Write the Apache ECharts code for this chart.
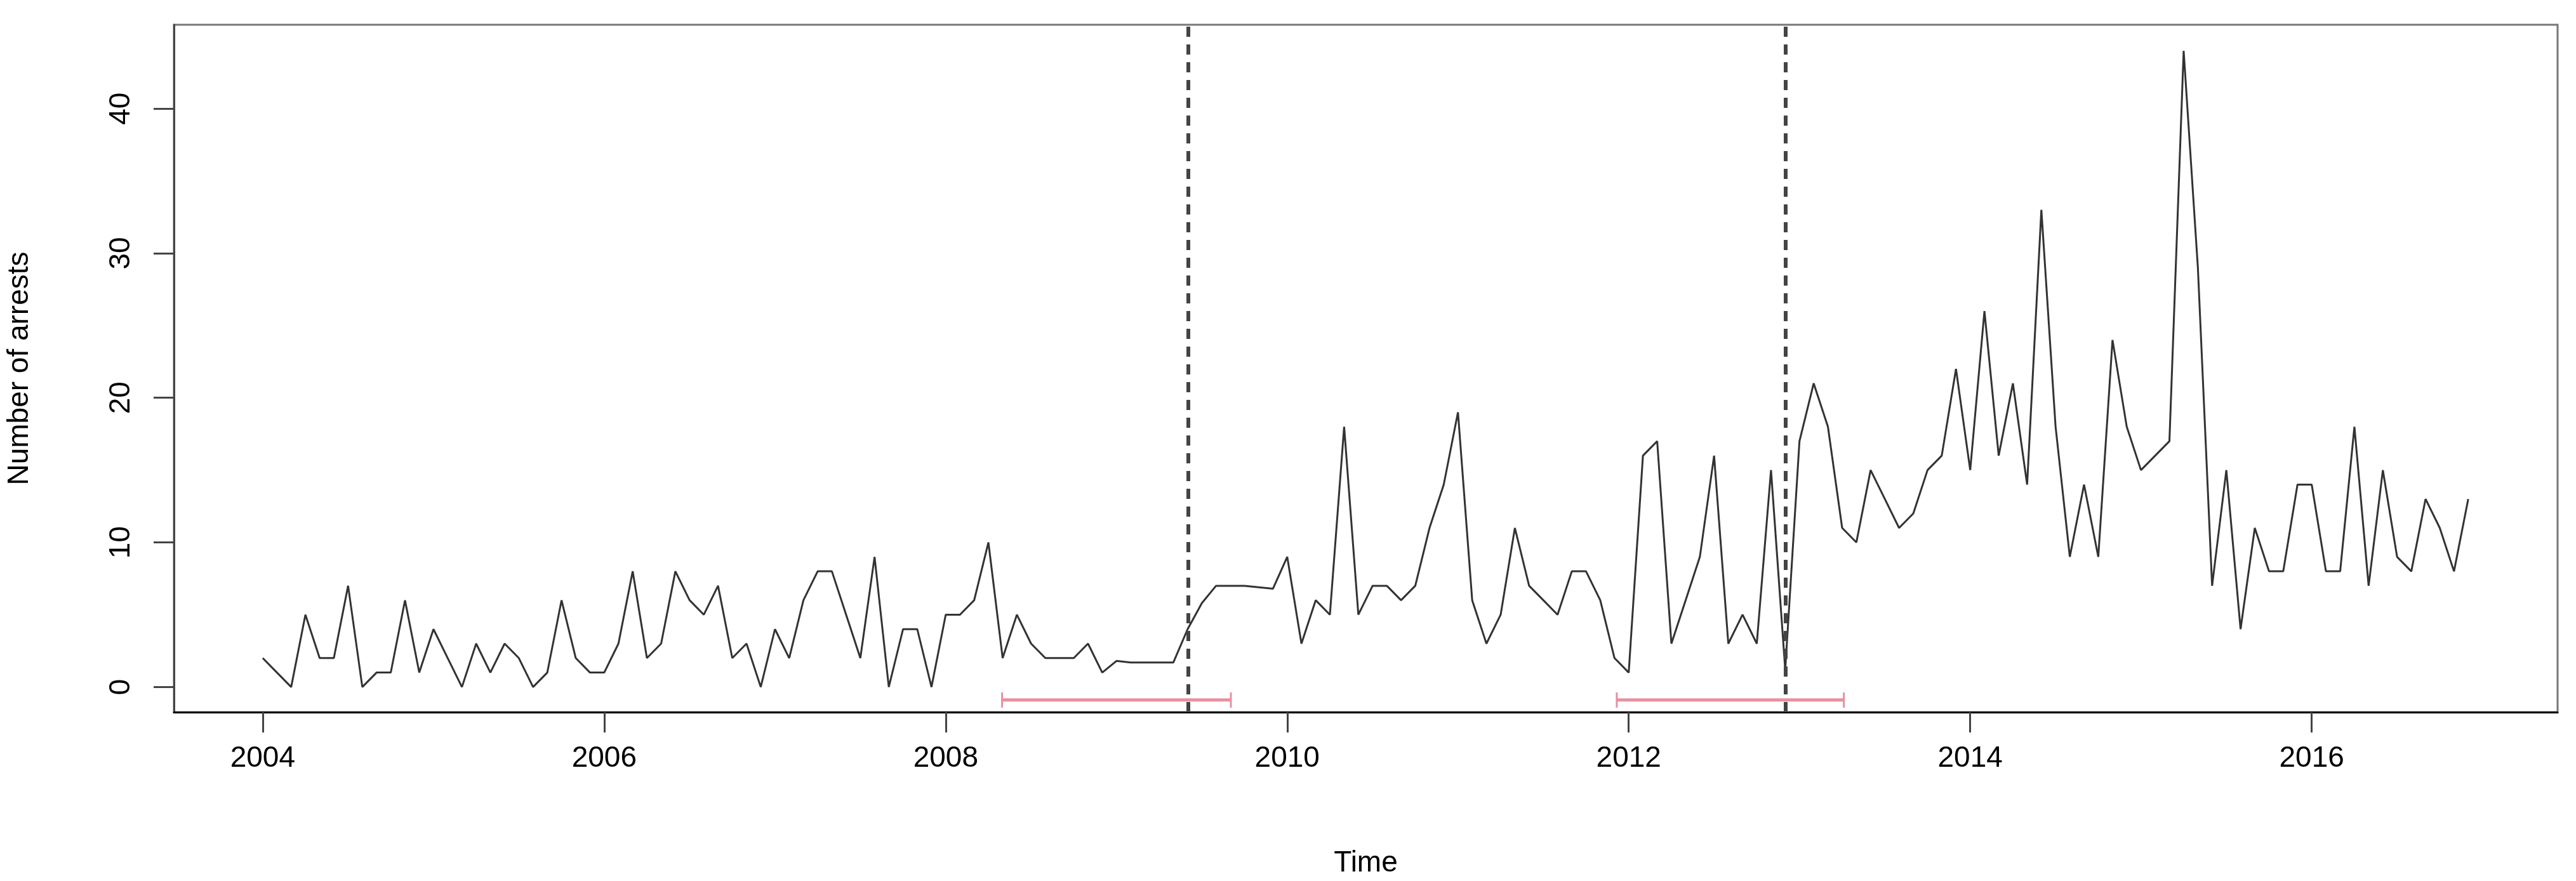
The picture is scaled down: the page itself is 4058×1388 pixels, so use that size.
<!DOCTYPE html>
<html>
<head>
<meta charset="utf-8">
<script src="https://cdn.jsdelivr.net/npm/echarts@6/dist/echarts.min.js"></script>
<style>html,body{margin:0;padding:0;background:#fff}#main{width:4058px;height:1388px}</style>
</head>
<body>
<div id="main"></div>
<script>
// monthly arrests, Jan 2004 .. Dec 2016
var startYear = 2004;
var arrests = [
  2,1,0,5,2,2,7,0,1,1,6,1,
  4,2,0,3,1,3,2,0,1,6,2,1,
  1,3,8,2,3,8,6,5,7,2,3,0,
  4,2,6,8,8,5,2,9,0,4,4,0,
  5,5,6,10,2,5,3,2,2,2,3,1,
  1.8,1.7,1.7,1.7,1.7,4,5.8,7,7,7,6.9,6.8,
  9,3,6,5,18,5,7,7,6,7,11,14,
  19,6,3,5,11,7,6,5,8,8,6,2,
  1,16,17,3,6,9,16,3,5,3,15,1.2,
  17,21,18,11,10,15,13,11,12,15,16,22,
  15,26,16,21,14,33,18,9,14,9,24,18,
  15,16,17,44,29,7,15,4,11,8,8,14,
  14,8,8,18,7,15,9,8,13,11,8,13
];
var breakDates = [2009.417, 2012.92];
var intervals = [[2008.33, 2009.67], [2011.93, 2013.26]];
var xTicks = [2004, 2006, 2008, 2010, 2012, 2014, 2016];
var yTicks = [0, 10, 20, 30, 40];

var lineData = arrests.map(function (v, i) { return [startYear + i / 12, v]; });
var ciY = -0.9;
var ciData = [];
intervals.forEach(function (iv) {
  ciData.push([iv[0], ciY], [iv[1], ciY], null);
});

var chart = echarts.init(document.getElementById('main'));
var font = 'Liberation Sans, Arial, sans-serif';
chart.setOption({
  animation: false,
  grid: { left: 266, right: 29, top: 39, bottom: 257, show: true, borderColor: '#777', borderWidth: 3 },
  xAxis: {
    type: 'value', min: 2003.48, max: 2017.44,
    name: 'Time', nameLocation: 'middle', nameGap: 215,
    nameTextStyle: { fontSize: 46, color: '#000', fontFamily: font },
    axisLine: { show: true, onZero: false, lineStyle: { color: '#000', width: 3 } },
    axisTick: { show: true, customValues: xTicks, length: 32, lineStyle: { color: '#444', width: 3 } },
    axisLabel: { customValues: xTicks, fontSize: 46, color: '#000', margin: 50, fontFamily: font,
      formatter: function (v) { return String(v); } },
    splitLine: { show: false }
  },
  yAxis: {
    type: 'value', min: -1.74, max: 45.8,
    name: 'Number of arrests', nameLocation: 'middle', nameGap: 220,
    nameTextStyle: { fontSize: 46, color: '#000', fontFamily: font },
    axisLine: { show: true, onZero: false, lineStyle: { color: '#444', width: 3 } },
    axisTick: { show: true, customValues: yTicks, length: 32, lineStyle: { color: '#444', width: 3 } },
    axisLabel: { customValues: yTicks, rotate: 90, fontSize: 46, color: '#000', margin: 60, fontFamily: font,
      formatter: function (v) { return String(v); } },
    splitLine: { show: false }
  },
  series: [
    {
      type: 'line', data: lineData, showSymbol: false,
      lineStyle: { color: '#333', width: 3 },
      markLine: {
        silent: true, symbol: 'none', label: { show: false },
        lineStyle: { type: [16, 12], color: '#444', width: 6 },
        data: breakDates.map(function (d) { return { xAxis: d }; })
      }
    },
    {
      type: 'line', data: ciData, connectNulls: false,
      symbol: 'rect', symbolSize: [3, 24], showSymbol: true,
      itemStyle: { color: '#e8909f' },
      lineStyle: { color: '#e8909f', width: 5 }
    }
  ]
});
</script>
</body>
</html>
